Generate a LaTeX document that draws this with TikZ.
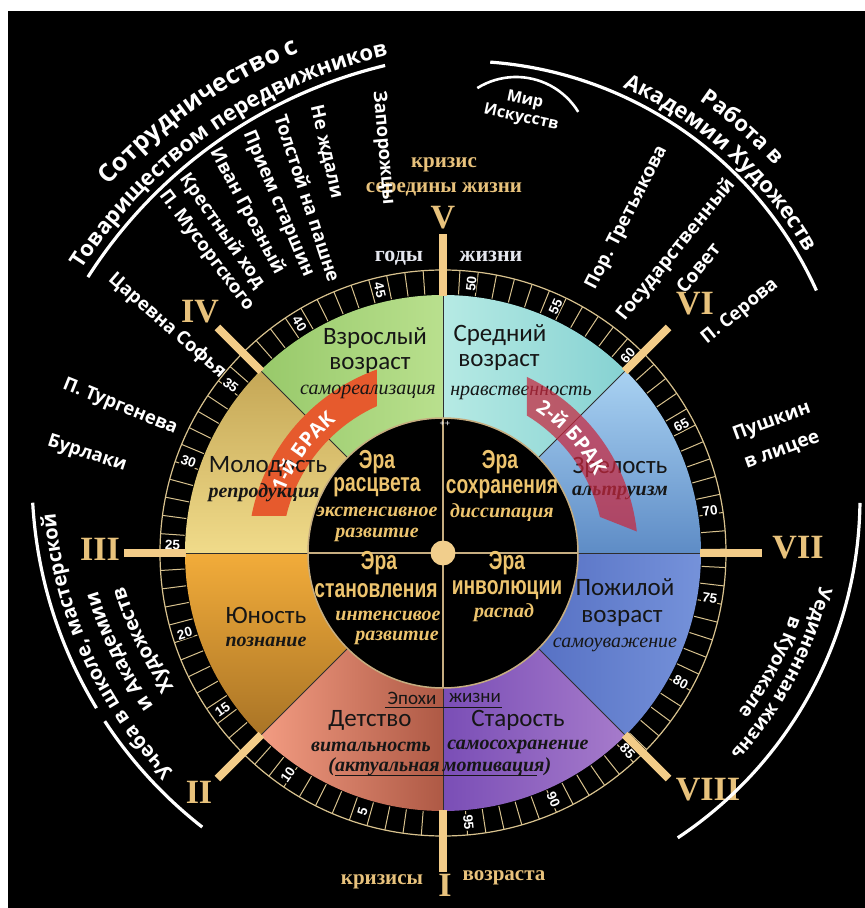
\documentclass[tikz,border=0pt]{standalone}
\usepackage{fontspec}
\setmainfont{Liberation Serif}
\newfontfamily\wfont{Open Sans}
\newfontfamily\cfont{Carlito}
\newfontfamily\nfont[FakeStretch=0.74]{Liberation Sans}
\newfontfamily\lsfont{Liberation Sans}
\usetikzlibrary{decorations.text}
\newcommand{\fsz}[1]{\fontsize{#1}{#1}\selectfont}
\newcommand{\fszl}[2]{\fontsize{#1}{#2}\selectfont}
\definecolor{gold}{HTML}{E8C27C}
\definecolor{barc}{HTML}{F3CC88}
\definecolor{tickc}{HTML}{D8C28E}
\definecolor{egold}{HTML}{EDC46E}
\definecolor{linec}{HTML}{C6AD80}
\definecolor{dk}{HTML}{161616}
\definecolor{divc}{HTML}{2E2E2E}
\definecolor{gyw}{HTML}{E4E6EE}
\definecolor{bandA}{HTML}{E65A2D}
\definecolor{bandB}{HTML}{C8283F}
\definecolor{dotc}{HTML}{F1CE8C}
\definecolor{adA}{HTML}{98C96A}\definecolor{adB}{HTML}{B9E08E}
\definecolor{miA}{HTML}{B6EAE4}\definecolor{miB}{HTML}{86D2D2}
\definecolor{zrA}{HTML}{A9D2F2}\definecolor{zrB}{HTML}{5E8CC6}
\definecolor{poA}{HTML}{5771C4}\definecolor{poB}{HTML}{7592DA}
\definecolor{stA}{HTML}{7A4EB6}\definecolor{stB}{HTML}{A67BCB}
\definecolor{deA}{HTML}{F39C82}\definecolor{deB}{HTML}{AE5945}
\definecolor{yuA}{HTML}{F2AC3A}\definecolor{yuB}{HTML}{A97426}
\definecolor{moA}{HTML}{F0DB8A}\definecolor{moB}{HTML}{C5A756}
\tikzset{
 wt/.style={text=white, font=\wfont\bfseries\fsz{18.5}, inner sep=0pt},
 wt2/.style={text=white, font=\wfont\bfseries\fszl{19}{30}, inner sep=0pt, align=center},
 sl/.style={text=dk, font=\cfont\fsz{25}, inner sep=0pt},
 si/.style={text=dk, font=\rmfamily\bfseries\itshape\fsz{20}, inner sep=0pt},
 ep/.style={text=dk, font=\cfont\fsz{19}, inner sep=0pt},
 era/.style={text=egold, font=\nfont\bfseries\fsz{26}, inner sep=0pt},
 erai/.style={text=egold, font=\rmfamily\bfseries\itshape\fsz{20}, inner sep=0pt},
 rom/.style={text=gold, font=\rmfamily\bfseries\fsz{34}, inner sep=0pt},
 cri/.style={text=gold, font=\rmfamily\bfseries\fsz{21}, inner sep=0pt},
 yrs/.style={text=gyw, font=\rmfamily\bfseries\fsz{22}, inner sep=0pt},
 tl/.style={text=white, font=\lsfont\bfseries\fsz{13.5}, inner sep=0.6pt, fill=black},
 bar/.style={barc, line width=8pt},
 arcw/.style={white, line width=3.2pt},
 sect/.style 2 args={insert path={(#1:135) arc[start angle=#1,end angle=#2,radius=135] -- (#2:258) arc[start angle=#2,end angle=#1,radius=258] -- cycle}},
 ctext/.style 2 args={decorate, decoration={text along path, text color=white, text align=center, text={|\wfont\bfseries\fsz{#1}|#2}}},
}
\begin{document}
\begin{tikzpicture}[x=1pt,y=1pt]
\useasboundingbox (-443,-355) rectangle (422,553);
\fill[white] (-443,-355) rectangle (422,553);
\fill[black] (-435,-355) rectangle (422,542);
% sectors
\shade[left color=adA, right color=adB, sect={90}{135}];
\shade[left color=miA, right color=miB, sect={45}{90}];
\shade[top color=zrA, bottom color=zrB, sect={0}{45}];
\shade[left color=poA, right color=poB, sect={-45}{0}];
\shade[left color=stA, right color=stB, sect={-90}{-45}];
\shade[left color=deA, right color=deB, sect={225}{270}];
\shade[top color=yuA, bottom color=yuB, sect={180}{225}];
\shade[top color=moB, bottom color=moA, sect={135}{180}];
\foreach \t in {0,45,...,315} \draw[divc, line width=0.8pt] (\t:135) -- (\t:258);
% tick ring
\foreach \k in {0,...,95}{\pgfmathsetmacro\ta{271.2-3.73*(\k+0.5)}
  \draw[tickc, line width=1pt] (\ta:259) -- (\ta:283);}
\draw[tickc, line width=1.2pt] (0,0) circle (283);
\foreach \v/\ta in {5/252.7,10/235,15/215.4,20/197.3,25/178.3,30/160.2,35/141.7,40/122,45/103.5}{
  \pgfmathsetmacro\tr{\ta-180}
  \node[tl, rotate=\tr] (lab\v) at (\ta:270.5) {\v};}
\foreach \v/\ta in {50/84,55/65.4,60/46.9,65/28.2,70/9,75/-9.6,80/-28.5,85/-47,90/-65.9,95/-84.6}{
  \node[tl, rotate=\ta] (lab\v) at (\ta:270.5) {\v};}
% inner circle
\fill[black] (0,0) circle (135);
\draw[linec, line width=1.5pt] (0,0) circle (135);
\draw[linec, line width=1.8pt] (0,-135) -- (0,135) (-135,0) -- (135,0);
\fill[dotc] (0,0) circle (12.5);
\node[text=white, font=\lsfont\fsz{9}, inner sep=0pt] (pp) at (2,129) {++};
% band 1
\begin{scope}
\clip (-300,38) rectangle (-66,300);
\fill[bandA, even odd rule] (0,0) circle (195) (0,0) circle (161);
\end{scope}
% sector labels
\node[sl] (a1) at (-68,215) {Взрослый};
\node[sl] (a2) at (-73,188) {возраст};
\node[si, font=\rmfamily\itshape\fsz{20}] (a3) at (-75,161) {самореализация};
\node[sl] (b1) at (57,218) {Средний};
\node[sl] (b2) at (56,191) {возраст};
\node[si, font=\rmfamily\itshape\fsz{20}] (b3) at (78,160) {нравственность};
\node[sl] (c1) at (-175,86) {Молодость};
\node[si] (c2) at (-179,60) {репродукция};
\node[sl] (d1) at (177,86) {Зрелость};
\node[si] (d2) at (177,60) {альтруизм};
\node[sl] (e1) at (-177,-62) {Юность};
\node[si] (e2) at (-177,-89) {познание};
\node[sl] (f1) at (182,-34) {Пожилой};
\node[sl] (f2) at (179,-65) {возраст};
\node[si, font=\rmfamily\itshape\fsz{20}] (f3) at (172,-92) {самоуважение};
\node[sl] (g1) at (-73,-167) {Детство};
\node[si] (g2) at (-72,-194) {витальность};
\node[si] (g3) at (-59,-214) {(актуальная};
\node[sl] (h1) at (75,-167) {Старость};
\node[si] (h2) at (75,-194) {самосохранение};
\node[si] (h3) at (54,-214) {мотивация)};
\node[ep] (ep1) at (-31,-145) {Эпохи};
\node[ep] (ep2) at (32,-145) {жизни};
\draw[dk, line width=1pt] (-58,-154) -- (59,-154);
\draw[dk, line width=1pt] (-108,-222) -- (94,-222);
% inner texts
\node[era] (i1) at (-66,91) {Эра};
\node[era] (i2) at (-66,66) {расцвета};
\node[erai] (i3) at (-66,41) {экстенсивное};
\node[erai] (i4) at (-66,18) {развитие};
\node[era] (j1) at (57,91) {Эра};
\node[era] (j2) at (59,64) {сохранения};
\node[erai] (j3) at (59,40) {диссипация};
\node[era] (k1) at (-64,-10) {Эра};
\node[era] (k2) at (-67,-38) {становления};
\node[erai] (k3) at (-55,-63) {интенсивое};
\node[erai] (k4) at (-46,-85) {развитие};
\node[era] (m1) at (64,-10) {Эра};
\node[era] (m2) at (64,-37) {инволюции};
\node[erai] (m3) at (61,-60) {распад};
% band 2
\begin{scope}
\clip (84,300) -- (300,300) -- (300,-20.3) -- (84,64.8) -- cycle;
\fill[bandB, opacity=0.72, even odd rule] (0,0) circle (195) (0,0) circle (161);
\end{scope}
\path[ctext={20}{1-й БРАК}] (178:170) arc[start angle=178, end angle=110, radius=170];
\path[ctext={20}{2-й БРАК}] (76:170) arc[start angle=76, end angle=8, radius=170];
% bars and numerals
\foreach \t in {0,45,...,315} \draw[bar] (\t:257) -- (\t:319);
\node[rom] (r1) at (2,-332) {I};
\node[rom] (r2) at (-244,-239) {II};
\node[rom] (r3) at (-343,4) {III};
\node[rom] (r4) at (-243,241) {IV};
\node[rom] (r5) at (0,335) {V};
\node[rom] (r6) at (252,249) {VI};
\node[rom] (r7) at (355,5) {VII};
\node[rom] (r8) at (265,-237) {VIII};
\node[cri] (q1) at (1,388) {кризис};
\node[cri] (q2) at (1,363) {середины жизни};
\node[yrs] (y1) at (-44,295) {годы};
\node[yrs] (y2) at (48,297) {жизни};
\node[cri] (q3) at (-61,-329) {кризисы};
\node[cri] (q4) at (61,-325) {возраста};
% white arcs
\draw[arcw, shift={(56,13)}] (147.4:488) arc[start angle=147.4, end angle=103.5, radius=488];
\draw[arcw, shift={(18,102)}] (85.7:390) arc[start angle=85.7, end angle=24.3, radius=390];
\draw[arcw, line width=2.6pt, shift={(73,403)}] (122:73) arc[start angle=122, end angle=31.5, radius=73];
\draw[arcw, shift={(32,75)}] (183.2:443) arc[start angle=183.2, end angle=211.3, radius=443];
\draw[arcw, shift={(32,75)}] (213.3:443) arc[start angle=213.3, end angle=232, radius=443];
\draw[arcw, shift={(9,55)}] (-0.7:408) arc[start angle=-0.7, end angle=-56.4, radius=408];
% curved texts
\path[ctext={25}{Сотрудничество с}, shift={(56,13)}] (160:527) arc[start angle=160, end angle=90, radius=527];
\path[ctext={22}{Товариществом передвижников}, shift={(56,13)}] (160:497) arc[start angle=160, end angle=90, radius=497];
\path[ctext={22}{Академии Художеств}, shift={(18,102)}] (83:398) arc[start angle=83, end angle=13, radius=398];
\path[ctext={22}{Работа в}, shift={(18,102)}] (84:424) arc[start angle=84, end angle=14, radius=424];
\path[ctext={20}{Учеба в школе, мастерской}, shift={(32,75)}] (240:421) arc[start angle=240, end angle=169, radius=421];
\path[ctext={20}{и Академии}, shift={(32,75)}] (241:394) arc[start angle=241, end angle=171, radius=394];
\path[ctext={20}{Художеств}, shift={(32,75)}] (241:367) arc[start angle=241, end angle=171, radius=367];
\path[ctext={19}{Уединенная жизнь}, shift={(9,55)}] (7:378) arc[start angle=7, end angle=-63, radius=378];
\path[ctext={19}{в Куоккале}, shift={(9,55)}] (7:358) arc[start angle=7, end angle=-63, radius=358];
% radial white texts
\node[wt, rotate=-85] (w1) at (-60,405) {Запорожцы};
\node[wt, rotate=-77] (w2) at (-117,401) {Не ждали};
\node[wt, rotate=-72] (w3) at (-135,355) {Толстой на пашне};
\node[wt, rotate=-67] (w4) at (-165,349) {Прием старшин};
\node[wt, rotate=-62] (w5) at (-196,342) {Иван Грозный};
\node[wt, rotate=-55] (w6) at (-221,322) {Крестный ход};
\node[wt, rotate=-53] (w7) at (-237,302) {П. Мусоргского};
\node[wt, rotate=-41] (w8) at (-276,227) {Царевна Софья};
\node[wt, rotate=-22] (w9) at (-323,146) {П. Тургенева};
\node[wt, rotate=-18] (w10) at (-356,99) {Бурлаки};
\node[wt, rotate=63] (w11) at (184,335) {Пор. Третьякова};
\node[wt2, rotate=51] (w12) at (243,295) {Государственный\\Совет};
\node[wt, rotate=39] (w13) at (297,241) {П. Серова};
\node[wt2, rotate=20] (w14) at (334,117) {Пушкин\\в лицее};
\node[wt2, font=\wfont\bfseries\fszl{16}{18}, rotate=-12] (w15) at (80,444) {Мир\\Искусств};
\end{tikzpicture}
\end{document}
